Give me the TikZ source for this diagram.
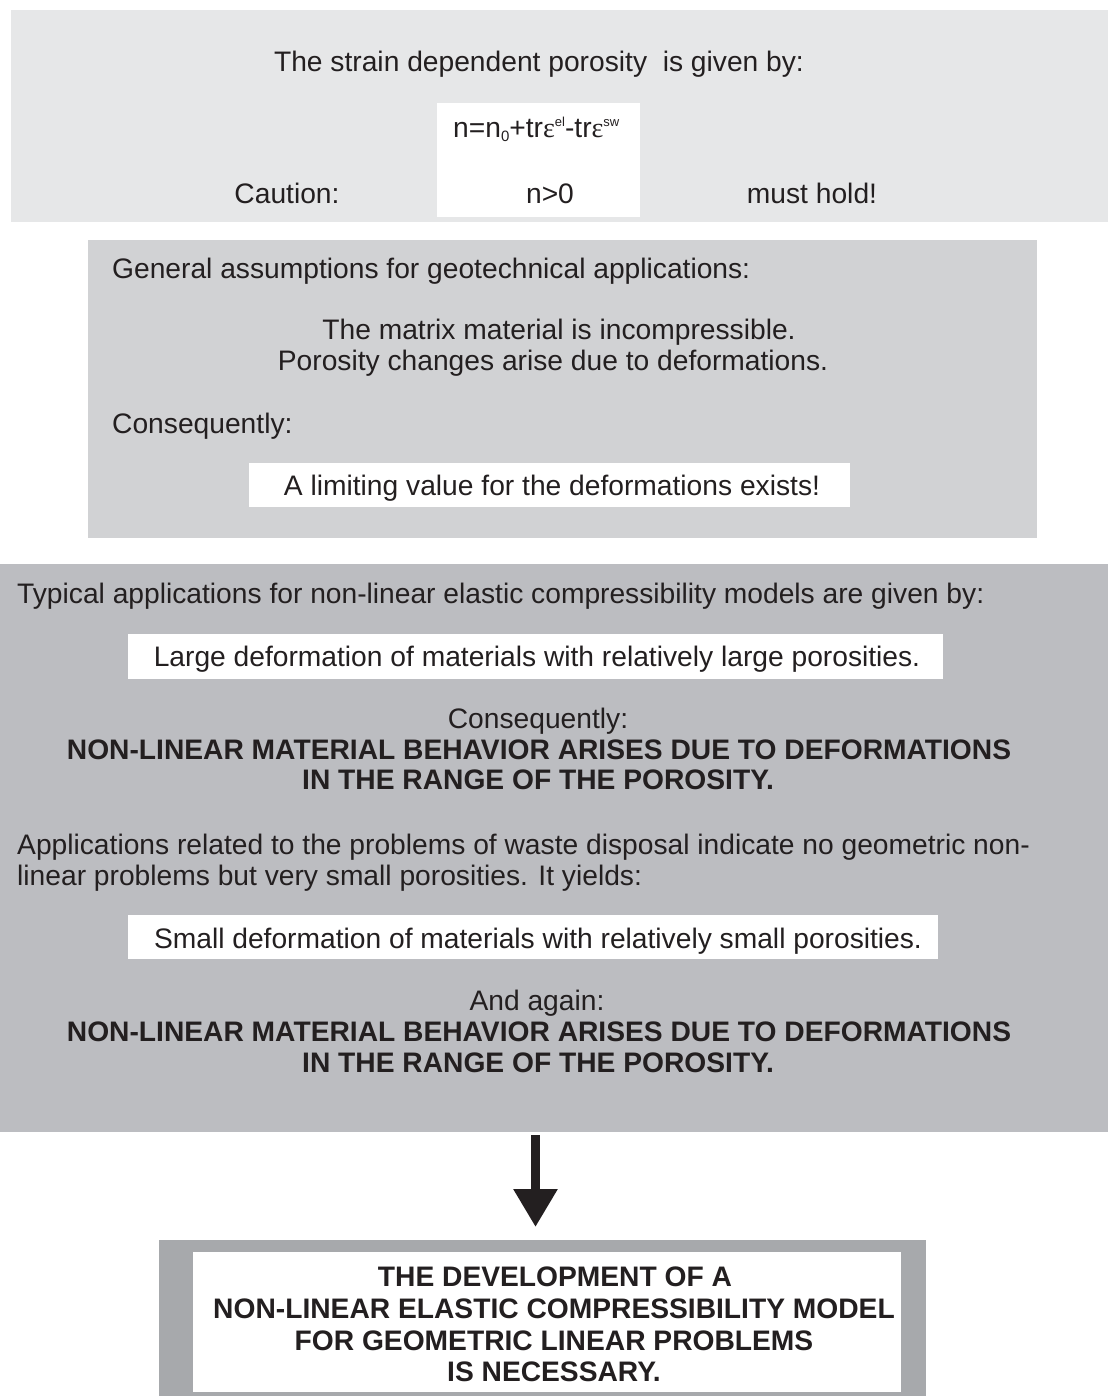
\documentclass[tikz,border=0pt]{standalone}
\usepackage{fontspec}
\setmainfont{Liberation Sans}
\newfontfamily\epsfont{Liberation Serif}
\usetikzlibrary{arrows.meta,positioning}
\definecolor{ink}{HTML}{231F20}
\definecolor{paneA}{HTML}{E6E7E8}
\definecolor{paneB}{HTML}{D1D2D4}
\definecolor{paneC}{HTML}{BCBDC1}
\definecolor{paneD}{HTML}{A7A9AC}
\newcommand{\epsl}{{\epsfont ε}}
\newcommand{\tinyup}[1]{\raisebox{11pt}{\fontsize{13}{13}\selectfont #1}}
\newcommand{\tinydown}[1]{\raisebox{-4pt}{\fontsize{15}{15}\selectfont #1}}

\begin{document}
\begin{tikzpicture}[x=1pt,y=-1pt,
  txt/.style={inner sep=0pt, text=ink, font=\fontsize{28.2}{32}\selectfont},
  bold/.style={inner sep=0pt, text=ink, font=\fontsize{28.2}{32}\selectfont\bfseries}]
  \useasboundingbox (0,0) rectangle (1108,1396);
  % panels, lightest on top
  \fill[paneA] (11,10) rectangle (1108,222);
  \fill[white] (437,103) rectangle (640,217);
  \fill[paneB] (88,240) rectangle (1037,538);
  \fill[white] (249,463) rectangle (850,507);
  \fill[paneC] (0,564) rectangle (1108,1132);
  \fill[white] (128,634) rectangle (943,679);
  \fill[white] (128,915) rectangle (938,959);
  \fill[paneD] (159,1240) rectangle (926,1396);
  \fill[white] (193,1252) rectangle (901,1392);

  % porosity panel
  \node[txt, anchor=base] (strain) at (539,72) {The strain dependent porosity\ \ is given by:};
  \node[txt, anchor=base west] (formula) at (453,138)
    {n=n\tinydown{0}+tr\epsl\tinyup{el}-tr\epsl\tinyup{sw}};
  \node[txt, anchor=base] (caution) at (287,204) {Caution:};
  \node[txt, anchor=base] (npos) at (550,204) {n>0};
  \node[txt, anchor=base] (hold) at (812,204) {must hold!};

  % assumptions panel
  \node[txt, anchor=base west] (general) at (112,279) {General assumptions for geotechnical applications:};
  \node[txt, anchor=base] (matrix) at (559,339) {The matrix material is incompressible.};
  \node[txt, anchor=base] (changes) at (553,370) {Porosity changes arise due to deformations.};
  \node[txt, anchor=base west] (conseqA) at (112,433) {Consequently:};
  \node[txt, anchor=base] (limit) at (552,495) {A limiting value for the deformations exists!};

  % applications panel
  \node[txt, anchor=base west] (typical) at (17,603)
    {Typical applications for non-linear elastic compressibility models are given by:};
  \node[txt, anchor=base] (large) at (537,666) {Large deformation of materials with relatively large porosities.};
  \node[txt, anchor=base] (conseqB) at (538,728) {Consequently:};
  \node[bold, anchor=base] (nonlinA) at (539,759) {NON-LINEAR MATERIAL BEHAVIOR ARISES DUE TO DEFORMATIONS};
  \node[bold, anchor=base] (rangeA) at (538,789) {IN THE RANGE OF THE POROSITY.};
  \node[txt, anchor=base west] (waste) at (17,854)
    {Applications related to the problems of waste disposal indicate no geometric non-};
  \node[txt, anchor=base west] (yields) at (17,885) {linear problems but very small porosities. It yields:};
  \node[txt, anchor=base] (small) at (538,948) {Small deformation of materials with relatively small porosities.};
  \node[txt, anchor=base] (again) at (537,1010) {And again:};
  \node[bold, anchor=base] (nonlinB) at (539,1041) {NON-LINEAR MATERIAL BEHAVIOR ARISES DUE TO DEFORMATIONS};
  \node[bold, anchor=base] (rangeB) at (538,1072) {IN THE RANGE OF THE POROSITY.};

  % result
  \coordinate (arrowFrom) at (535.5,1135);
  \coordinate (arrowTo) at (535.5,1227);
  \draw[ink, line width=9pt, -{Triangle[width=42pt,length=38pt]}] (arrowFrom) -- (arrowTo);
  \node[bold, anchor=base] (resultA) at (555,1286) {THE DEVELOPMENT OF A};
  \node[bold, anchor=base] (resultB) at (554,1318) {NON-LINEAR ELASTIC COMPRESSIBILITY MODEL};
  \node[bold, anchor=base] (resultC) at (554,1350) {FOR GEOMETRIC LINEAR PROBLEMS};
  \node[bold, anchor=base] (resultD) at (554,1381) {IS NECESSARY.};
\end{tikzpicture}
\end{document}
